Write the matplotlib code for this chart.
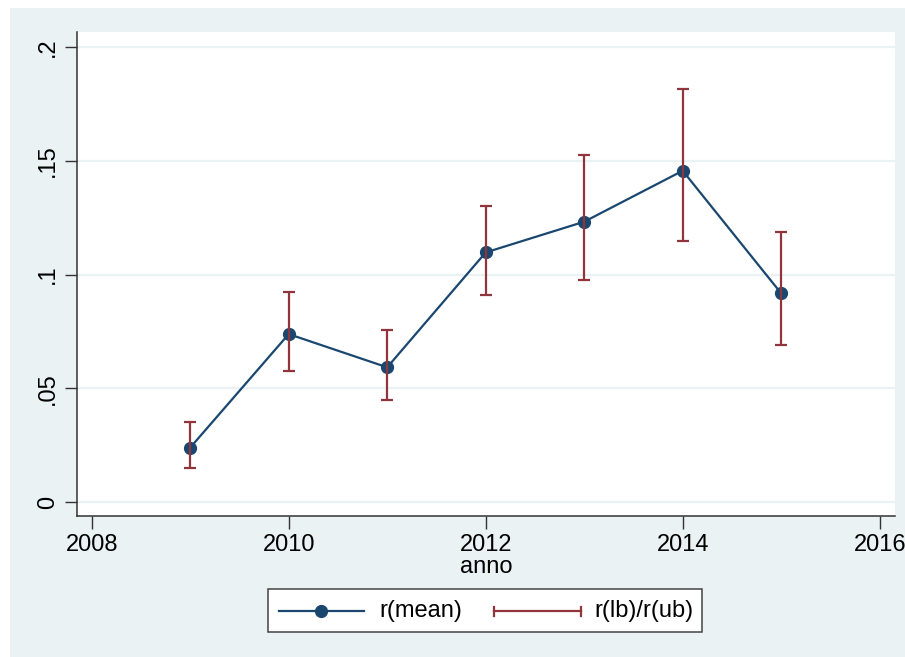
import matplotlib.pyplot as plt
from matplotlib.patches import Rectangle
from matplotlib.lines import Line2D

plt.rcParams['font.family'] = ['Liberation Sans', 'DejaVu Sans']

anno = [2009, 2010, 2011, 2012, 2013, 2014, 2015]
r_mean = [0.0239, 0.0738, 0.0592, 0.1097, 0.1232, 0.1456, 0.0917]
r_lb = [0.0148, 0.0577, 0.0448, 0.0910, 0.0976, 0.1147, 0.0690]
r_ub = [0.0353, 0.0923, 0.0756, 0.1301, 0.1524, 0.1815, 0.1187]

x_ticks = [2008, 2010, 2012, 2014, 2016]
y_ticks = [0, 0.05, 0.1, 0.15, 0.2]
y_labels = ['0', '.05', '.1', '.15', '.2']

navy = '#1a476f'
maroon = '#90353b'
bg = '#eaf2f3'
W, H = 905, 657
fs = 17

fig = plt.figure(figsize=(W / 100, H / 100), dpi=100)
fig.patch.set_facecolor('white')

# overlay in pixel coordinates for the background and legend
ov = fig.add_axes([0, 0, 1, 1], zorder=-1)
ov.set_xlim(0, W)
ov.set_ylim(H, 0)
ov.axis('off')
ov.add_patch(Rectangle((10, 8), W - 10, H - 8, facecolor=bg, edgecolor='none'))

ax = fig.add_axes([77 / W, (H - 516) / H, (895 - 77) / W, (516 - 32) / H])
ax.set_facecolor('white')

for y in y_ticks:
    ax.axhline(y, color=bg, lw=1.6, zorder=0)

ax.plot(anno, r_mean, color=navy, lw=1.6, marker='o', ms=8.5,
        markerfacecolor=navy, markeredgecolor=navy, zorder=2)
mid = [(l + u) / 2 for l, u in zip(r_lb, r_ub)]
half = [(u - l) / 2 for l, u in zip(r_lb, r_ub)]
ax.errorbar(anno, mid, yerr=half, fmt='none', ecolor=maroon,
            elinewidth=1.6, capsize=4.5, capthick=1.6, zorder=3)

ax.set_xlim(2008 - 14.7 / 98.5, 2008 + 803.3 / 98.5)
ax.set_ylim(-14 / 2275, 0.2 + 15 / 2275)
ax.set_xticks(x_ticks)
ax.set_yticks(y_ticks)
ax.set_yticklabels(y_labels, rotation=90, va='center')
ax.tick_params(axis='both', labelsize=fs, length=9, width=1,
               color='#333333', pad=4)
ax.spines['top'].set_visible(False)
ax.spines['right'].set_visible(False)
for s in ('left', 'bottom'):
    ax.spines[s].set_color('#333333')
    ax.spines[s].set_linewidth(1.1)
ax.set_xlabel('anno', fontsize=fs, labelpad=0)

# legend
ov.add_patch(Rectangle((268, 589), 702 - 268, 632 - 589, facecolor='white',
                       edgecolor='#444444', lw=1.1))
ly = 611
ov.add_line(Line2D([279, 364], [ly, ly], color=navy, lw=1.6))
ov.plot([321], [ly], marker='o', ms=8.5, color=navy)
ov.text(379, ly, 'r(mean)', fontsize=fs, va='center', ha='left')
ov.add_line(Line2D([494, 581], [ly, ly], color=maroon, lw=1.6))
for cx in (494, 581):
    ov.add_line(Line2D([cx, cx], [ly - 4.5, ly + 4.5], color=maroon, lw=1.6))
ov.text(594, ly, 'r(lb)/r(ub)', fontsize=fs, va='center', ha='left')

fig.savefig('out.png', dpi=100)
